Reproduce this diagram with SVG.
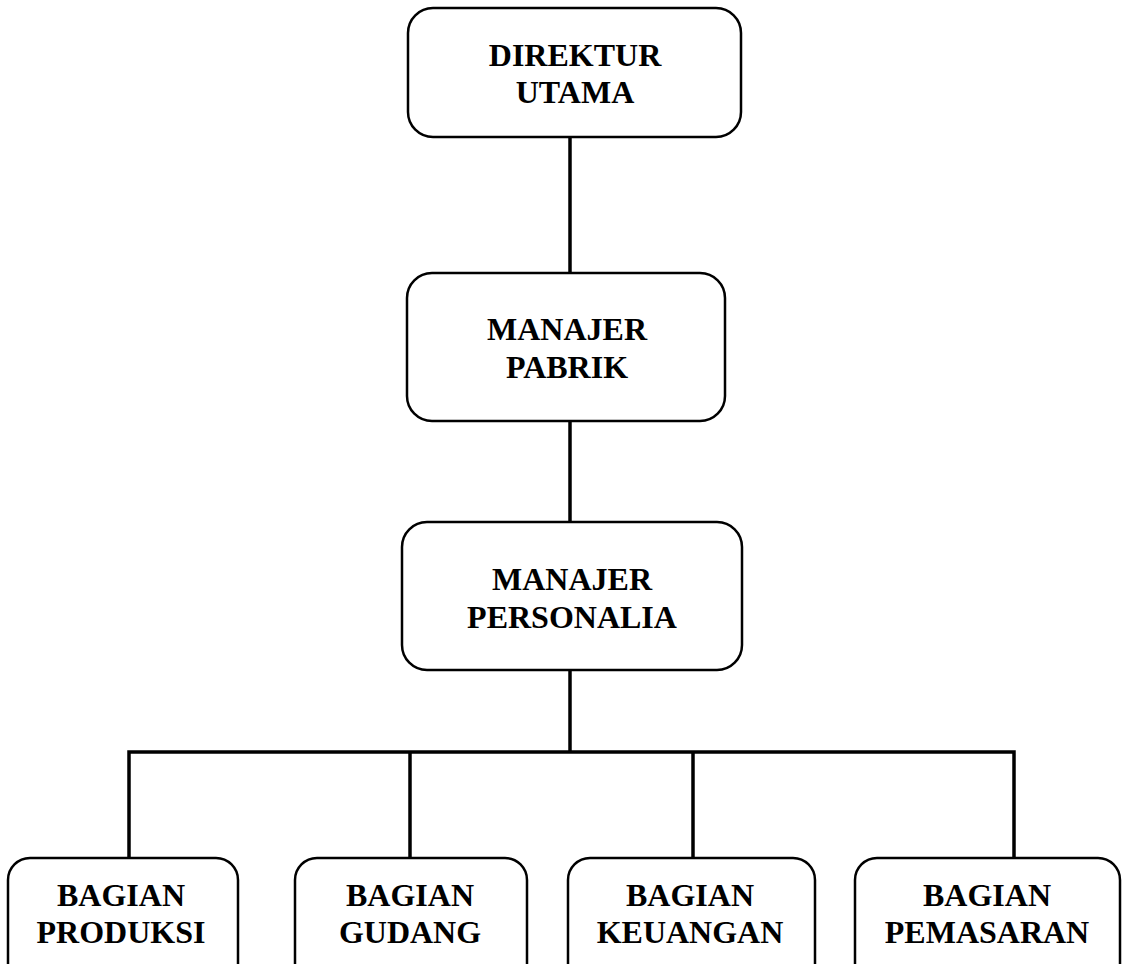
<svg xmlns="http://www.w3.org/2000/svg" width="1122" height="964" viewBox="0 0 1122 964">
<style>
.box{fill:#fff;stroke:#000;stroke-width:2.5}
.lbl{font-family:"Liberation Serif","Times New Roman",serif;font-weight:bold;font-size:32px;fill:#000;text-anchor:middle}
.con{stroke:#000;stroke-width:3.5;fill:none}
</style>
<rect width="1122" height="964" fill="#fff"/>
<g id="connectors">
<line class="con" x1="570" y1="137" x2="570" y2="273"/>
<line class="con" x1="570" y1="421" x2="570" y2="522"/>
<line class="con" x1="570" y1="670" x2="570" y2="752"/>
<polyline class="con" points="129,858 129,752 1014,752 1014,858"/>
<line class="con" x1="410" y1="752" x2="410" y2="858"/>
<line class="con" x1="693" y1="752" x2="693" y2="858"/>
</g>
<g id="direktur-utama">
<rect class="box" x="408" y="8" width="333" height="129" rx="25"/>
<text class="lbl" x="575" y="66">DIREKTUR</text>
<text class="lbl" x="575" y="103">UTAMA</text>
</g>
<g id="manajer-pabrik">
<rect class="box" x="407" y="273" width="318" height="148" rx="25"/>
<text class="lbl" x="567" y="340">MANAJER</text>
<text class="lbl" x="567" y="378">PABRIK</text>
</g>
<g id="manajer-personalia">
<rect class="box" x="402" y="522" width="340" height="148" rx="25"/>
<text class="lbl" x="572" y="590">MANAJER</text>
<text class="lbl" x="572" y="628">PERSONALIA</text>
</g>
<g id="bagian-produksi">
<rect class="box" x="8" y="858" width="230" height="140" rx="22"/>
<text class="lbl" x="121" y="906">BAGIAN</text>
<text class="lbl" x="121" y="943">PRODUKSI</text>
</g>
<g id="bagian-gudang">
<rect class="box" x="295" y="858" width="232" height="140" rx="22"/>
<text class="lbl" x="410" y="906">BAGIAN</text>
<text class="lbl" x="410" y="943">GUDANG</text>
</g>
<g id="bagian-keuangan">
<rect class="box" x="568" y="858" width="247" height="140" rx="22"/>
<text class="lbl" x="690" y="906">BAGIAN</text>
<text class="lbl" x="690" y="943">KEUANGAN</text>
</g>
<g id="bagian-pemasaran">
<rect class="box" x="855" y="858" width="265" height="140" rx="22"/>
<text class="lbl" x="987" y="906">BAGIAN</text>
<text class="lbl" x="987" y="943">PEMASARAN</text>
</g>
</svg>
